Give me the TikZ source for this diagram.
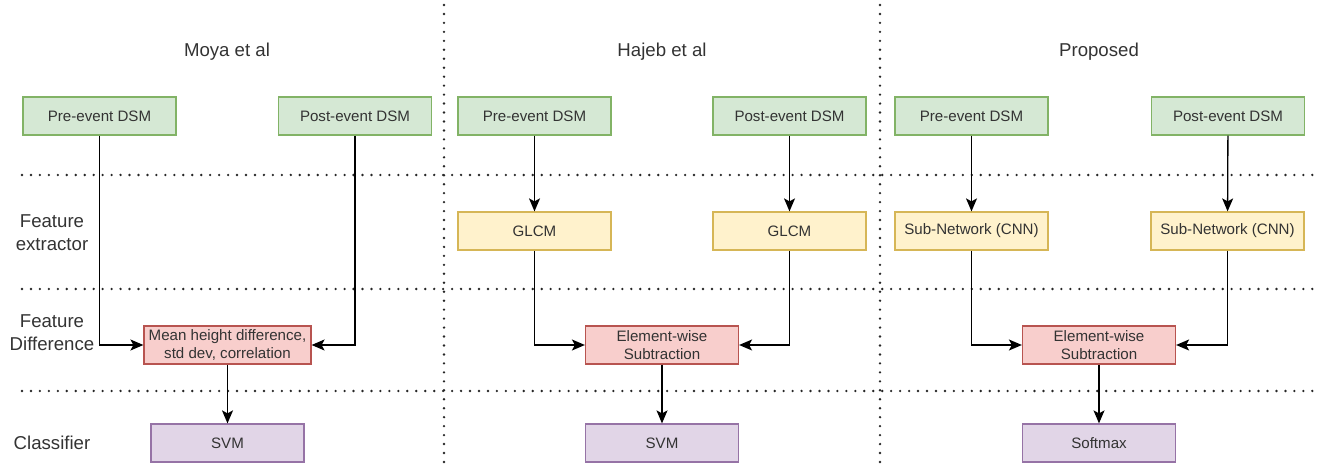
\documentclass[tikz,border=0pt]{standalone}
\usepackage{fontspec}
\setmainfont{Liberation Sans}
\usepackage{tikz}
\usetikzlibrary{arrows.meta}

\definecolor{grfill}{HTML}{D5E8D4}\definecolor{grdraw}{HTML}{82B366}
\definecolor{ylfill}{HTML}{FFF2CC}\definecolor{yldraw}{HTML}{D6B656}
\definecolor{rdfill}{HTML}{F8CECC}\definecolor{rddraw}{HTML}{B85450}
\definecolor{pufill}{HTML}{E1D5E7}\definecolor{pudraw}{HTML}{9673A6}

\begin{document}
\begin{tikzpicture}[x=0.02cm, y=-0.02cm, every node/.style={text=black!80}, >={Stealth[length=2.6mm, width=2.2mm, inset=0.6mm]},
	blk/.style={draw, line width=0.7pt, minimum width=3.06cm, minimum height=0.76cm, inner sep=1pt, align=center, font=\fontsize{8.6}{10.3}\selectfont},
	dsm/.style={blk, fill=grfill, draw=grdraw},
	ext/.style={blk, fill=ylfill, draw=yldraw},
	dif/.style={blk, fill=rdfill, draw=rddraw},
	cls/.style={blk, fill=pufill, draw=pudraw},
	hdr/.style={font=\fontsize{10.6}{12.9}\selectfont, align=center},
	sep/.style={black!85, line width=1.5pt, line cap=round, dash pattern=on 0pt off 5.1pt},
	link/.style={->, line width=0.75pt}]
	\useasboundingbox (0,0) rectangle (1322,465);
	% separators
	\draw[sep] (22,175) -- (1316,175);
	\draw[sep] (22,289) -- (1316,289);
	\draw[sep] (22,391) -- (1316,391);
	\draw[sep] (444,5) -- (444,465);
	\draw[sep] (880,5) -- (880,465);
	% headers
	\node[hdr] (t1) at (227,52) {Moya et al};
	\node[hdr] (t2) at (662,52) {Hajeb et al};
	\node[hdr] (t3) at (1099,52) {Proposed};
	\node[hdr] (r1) at (52,233) {Feature\\extractor};
	\node[hdr] (r2) at (52,333) {Feature\\Difference};
	\node[hdr] (r3) at (52,443) {Classifier};
	% Moya et al
	\node[dsm] (pre1) at (99.5,116) {Pre-event DSM};
	\node[dsm] (post1) at (355,116) {Post-event DSM};
	\node[dif, minimum width=3.34cm] (dif1) at (227.5,345) {Mean height difference,\\std dev, correlation};
	\node[cls] (cls1) at (227.5,443) {SVM};
	\draw[link] (pre1) |- (dif1);
	\draw[link] (post1) |- (dif1);
	\draw[link] (dif1) -- (cls1);
	% Hajeb et al
	\node[dsm] (pre2) at (534.5,116) {Pre-event DSM};
	\node[dsm] (post2) at (789.5,116) {Post-event DSM};
	\node[ext] (ext2a) at (534.5,231) {GLCM};
	\node[ext] (ext2b) at (789.5,231) {GLCM};
	\node[dif] (dif2) at (662,345) {Element-wise\\Subtraction};
	\node[cls] (cls2) at (662,443) {SVM};
	\draw[link] (pre2) -- (ext2a);
	\draw[link] (post2) -- (ext2b);
	\draw[link] (ext2a) |- (dif2);
	\draw[link] (ext2b) |- (dif2);
	\draw[link] (dif2) -- (cls2);
	% Proposed
	\node[dsm] (pre3) at (971.5,116) {Pre-event DSM};
	\node[dsm] (post3) at (1228,116) {Post-event DSM};
	\node[ext] (ext3a) at (971.5,231) {Sub-Network (CNN)};
	\node[ext] (ext3b) at (1227.5,231) {Sub-Network (CNN)};
	\node[dif] (dif3) at (1099,345) {Element-wise\\Subtraction};
	\node[cls] (cls3) at (1099,443) {Softmax};
	\draw[link] (pre3) -- (ext3a);
	\draw[link] (post3) -- (ext3b);
	\draw[link] (ext3a) |- (dif3);
	\draw[link] (ext3b) |- (dif3);
	\draw[link] (dif3) -- (cls3);
\end{tikzpicture}
\end{document}
